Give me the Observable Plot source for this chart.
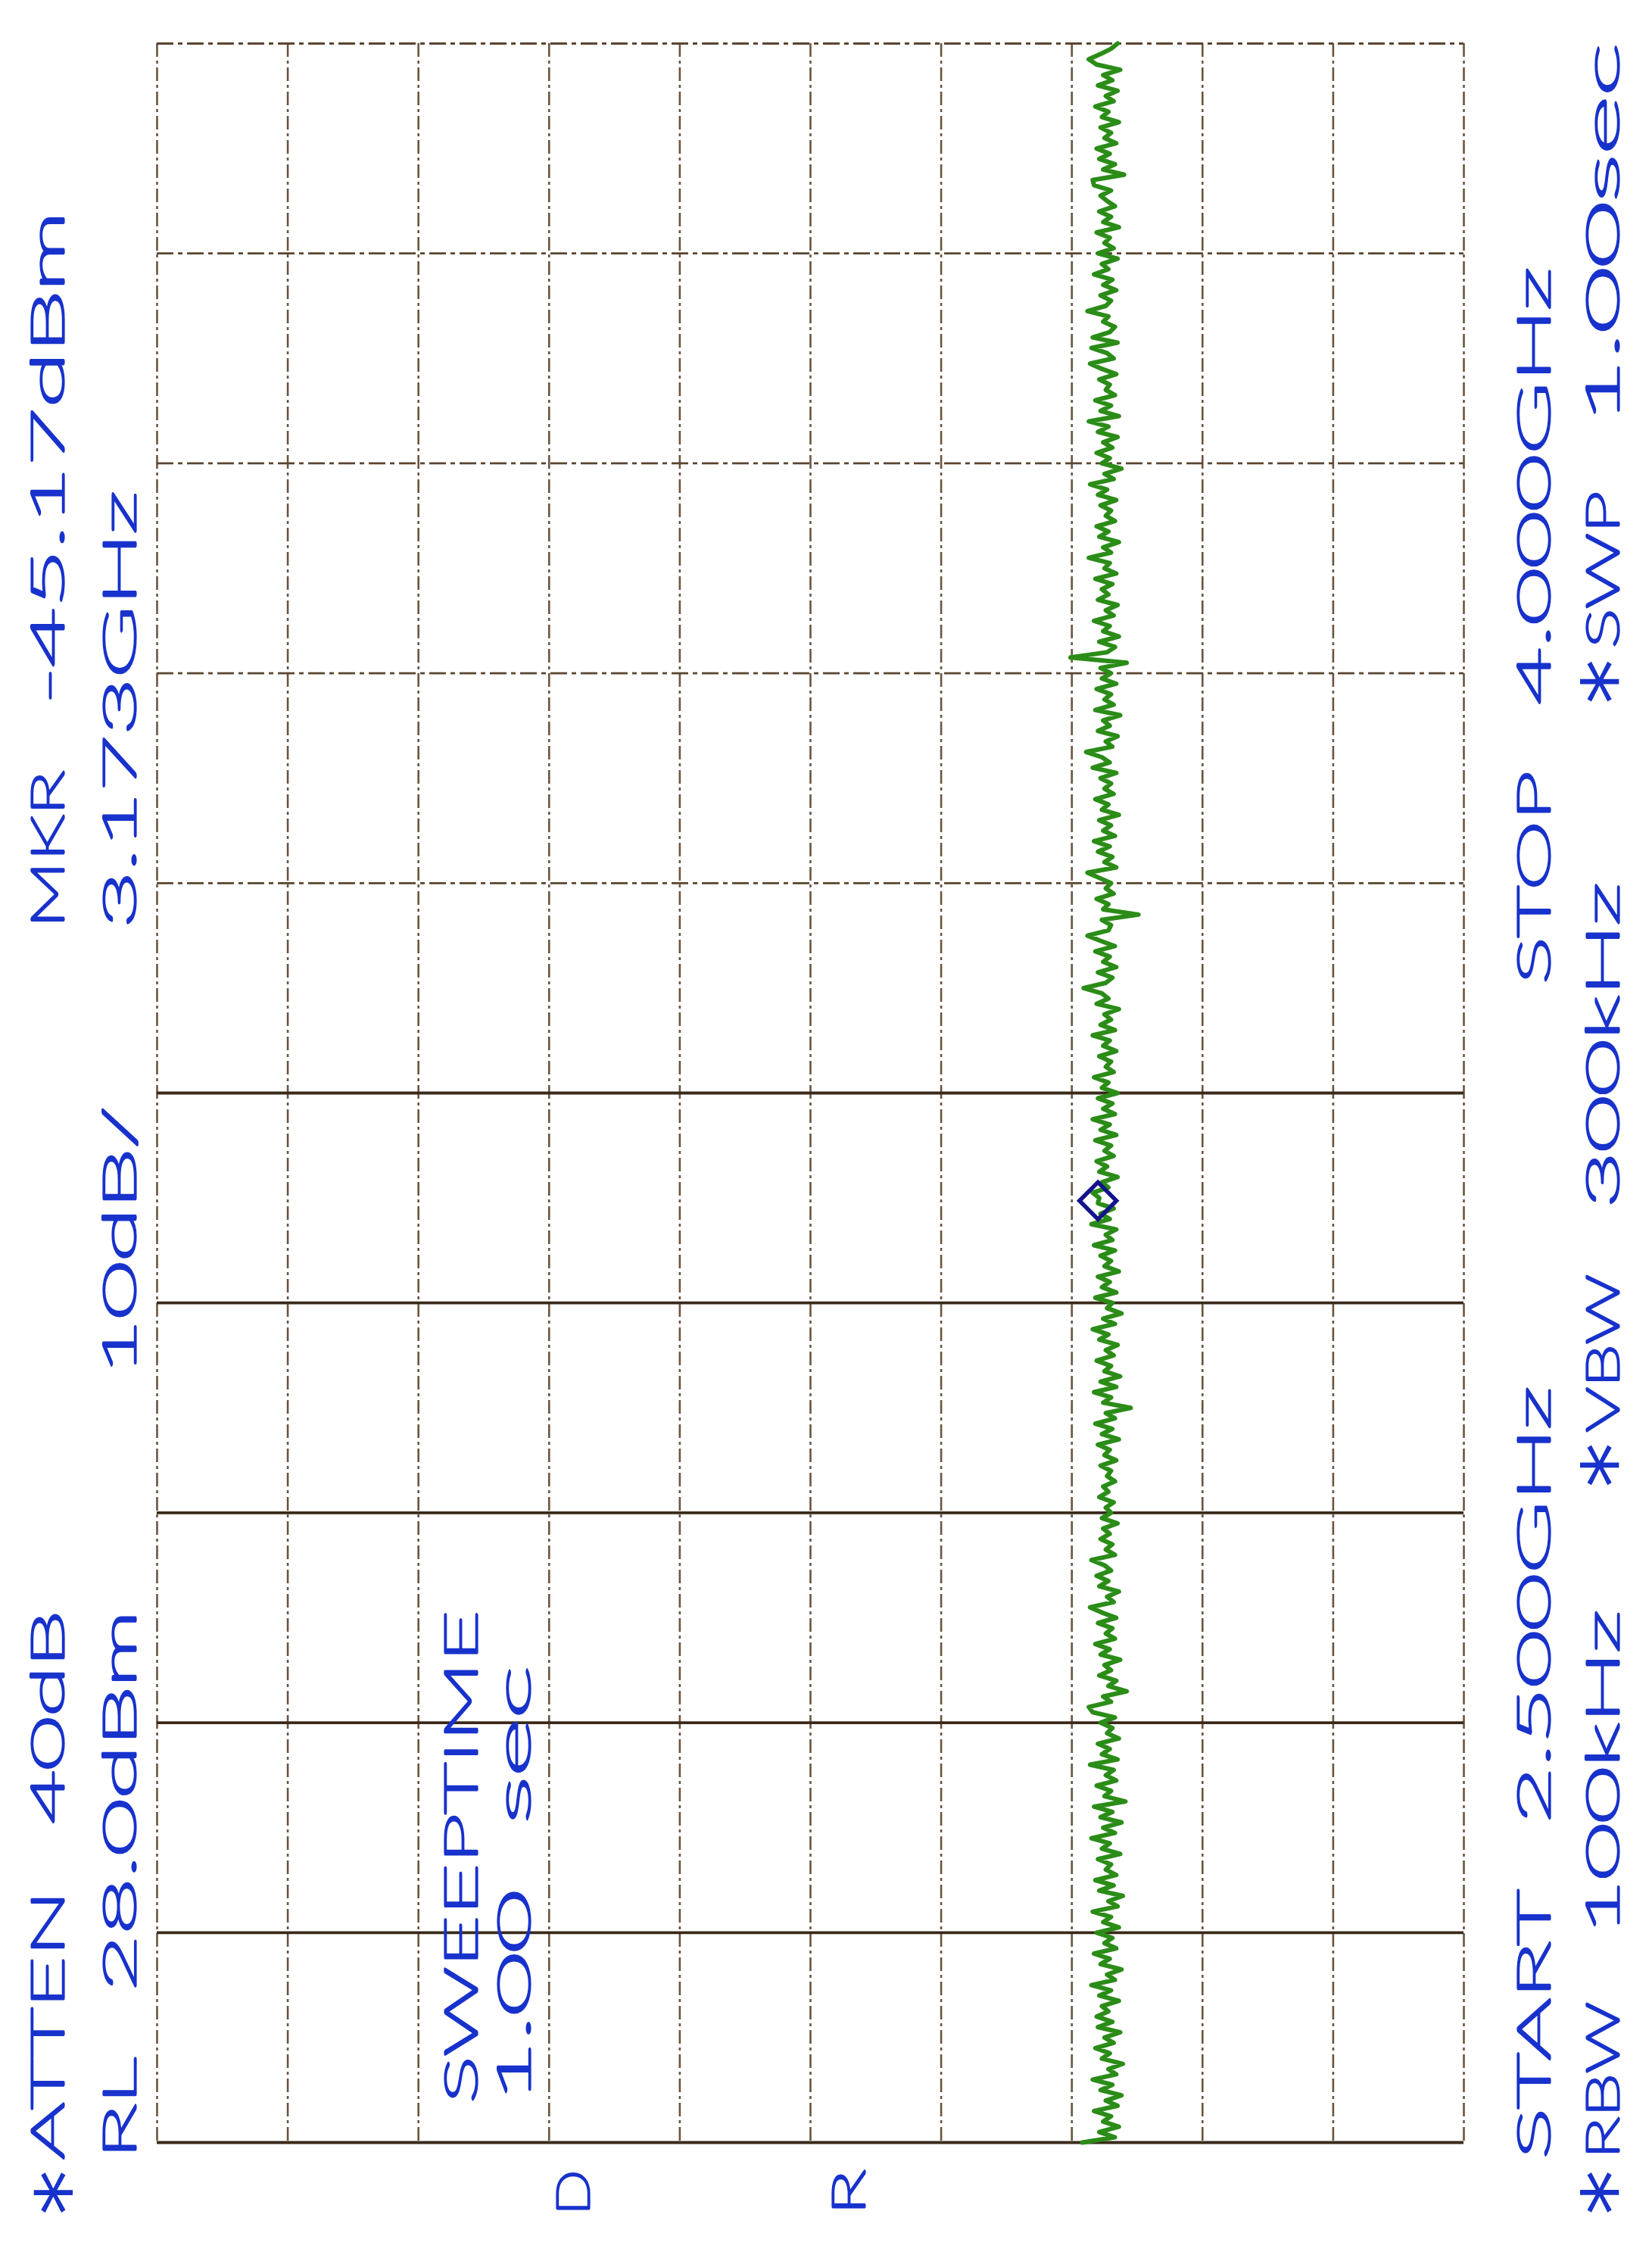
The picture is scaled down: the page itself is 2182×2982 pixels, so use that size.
<!DOCTYPE html>
<html>
<head>
<meta charset="utf-8">
<script src="https://cdn.jsdelivr.net/npm/d3@7"></script>
<script src="https://cdn.jsdelivr.net/npm/@observablehq/plot@0.6"></script>
<style>
html, body { margin: 0; padding: 0; background: #ffffff; }
#chart svg { display: block; }
</style>
</head>
<body>
<div id="chart"></div>
<script>
// ---- data ----
const startGhz = 2.5;
const stopGhz = 4.0;
const refLevelDbm = 28;
const dbPerDiv = 10;

// amplitude grid (dBm) and frequency grid (GHz)
const ampGrid = [28, 18, 8, -2, -12, -22, -32, -42, -52, -62, -72];
const freqGridSolid = [2.5, 2.65, 2.8, 2.95, 3.1, 3.25];
const freqGridDashed = [3.4, 3.55, 3.7, 3.85, 4.0];

// trace, 401 sweep points from START (index 0) to STOP (index 400), dBm
const traceDbm = [
  -42.8, -45.3, -44.1, -45.6, -44.4, -45.0, -43.7, -45.5, -44.6, -45.8,
  -44.2, -45.1, -43.6, -45.4, -44.8, -45.9, -44.3, -44.9, -43.8, -45.2,
  -44.5, -45.7, -44.0, -45.1, -43.9, -44.8, -44.3, -45.6, -44.1, -45.0,
  -43.5, -45.3, -44.7, -45.8, -44.2, -44.9, -43.7, -45.4, -44.5, -45.1,
  -43.9, -45.6, -44.4, -45.0, -43.6, -45.5, -44.8, -45.9, -44.1, -45.2,
  -43.8, -45.4, -44.6, -45.0, -44.0, -45.7, -44.3, -44.9, -43.5, -45.3,
  -44.4, -45.8, -44.2, -45.1, -43.7, -46.1, -44.5, -45.0, -43.9, -45.4,
  -44.6, -45.2, -43.4, -45.5, -44.3, -44.9, -44.0, -45.6, -44.7, -45.1,
  -44.2, -45.3, -43.6, -43.3, -45.0, -44.4, -46.2, -44.8, -45.4, -44.1,
  -45.0, -44.5, -45.7, -44.2, -44.9, -43.8, -45.3, -44.6, -45.1, -44.0,
  -45.4, -44.3, -43.4, -45.2, -44.7, -45.6, -44.1, -44.8, -43.9, -45.0,
  -44.5, -43.5, -45.3, -44.6, -45.1, -44.2, -44.9, -44.4, -45.5, -44.3,
  -45.0, -44.6, -45.2, -44.1, -44.8, -44.4, -45.3, -44.7, -45.0, -44.2,
  -45.4, -44.5, -44.9, -44.0, -45.6, -44.3, -45.1, -43.8, -45.3, -44.6,
  -46.5, -44.4, -45.0, -43.7, -45.4, -44.2, -45.7, -44.5, -45.0, -43.9,
  -45.2, -44.6, -45.5, -44.1, -44.8, -43.6, -45.3, -44.4, -45.8, -44.7,
  -45.1, -43.8, -45.4, -44.3, -44.9, -44.0, -45.6, -44.5, -45.0, -44.2,
  -45.3, -43.7, -45.1, -44.6, -45.4, -43.5, -44.9, -44.2, -45.2, -44.0,
  -44.1, -43.6, -44.8, -44.3, -45.5, -44.1, -44.7, -43.9, -45.2, -44.5,
  -45.0, -43.8, -45.4, -44.2, -44.9, -43.6, -45.3, -44.4, -45.1, -44.0,
  -45.5, -44.3, -44.8, -43.7, -45.2, -44.6, -45.0, -44.1, -45.4, -44.4,
  -44.9, -43.6, -45.3, -44.2, -45.0, -44.5, -45.6, -43.9, -44.8, -44.3,
  -42.9, -44.6, -45.1, -44.0, -45.4, -44.4, -44.9, -43.8, -45.3, -44.2,
  -43.2, -44.8, -45.0, -44.3, -47.1, -44.4, -44.8, -43.9, -45.2, -44.6,
  -45.0, -44.1, -43.2, -45.4, -44.5, -45.1, -44.0, -44.9, -43.7, -45.3,
  -44.4, -45.0, -44.1, -45.6, -44.3, -44.8, -43.8, -45.2, -44.5, -45.0,
  -44.2, -45.4, -43.6, -44.9, -44.3, -43.1, -45.1, -44.6, -45.5, -44.0,
  -44.9, -44.4, -45.7, -43.8, -45.2, -44.5, -45.0, -43.9, -45.4, -44.3,
  -45.0, -44.2, -46.2, -41.9, -44.7, -45.3, -44.1, -45.6, -44.4, -44.9,
  -43.7, -45.2, -44.6, -45.5, -44.0, -44.8, -44.3, -45.1, -43.8, -45.4,
  -44.5, -44.9, -43.3, -45.0, -44.4, -45.6, -44.1, -44.8, -43.9, -45.3,
  -44.6, -45.0, -44.2, -45.4, -44.0, -44.7, -43.4, -45.2, -44.5, -45.8,
  -44.3, -44.9, -43.9, -45.1, -44.4, -45.5, -44.0, -44.8, -43.3, -45.6,
  -44.2, -45.0, -43.8, -45.3, -44.6, -44.9, -44.1, -45.4, -44.3, -43.4,
  -45.2, -44.7, -43.5, -45.5, -43.6, -44.9, -45.3, -44.4, -44.8, -43.2,
  -44.6, -45.0, -44.2, -45.4, -44.4, -45.1, -43.7, -44.8, -44.3, -45.5,
  -44.0, -45.2, -44.5, -44.9, -43.9, -45.6, -44.4, -45.0, -44.1, -45.3,
  -44.7, -44.2, -45.0, -43.7, -43.6, -46.0, -44.4, -45.3, -44.1, -44.9,
  -43.9, -45.4, -44.5, -45.0, -44.2, -45.6, -44.3, -44.8, -43.8, -45.2,
  -44.6, -45.5, -44.0, -45.1, -44.4, -45.7, -43.9, -43.3, -44.2, -45.0,
  -45.5
];

// marker
const markerGhz = [3.173];
const markerDbm = [-44.0];

// annotation texts (plotter printout)
const labels = [
  "*ATTEN 40dB", "MKR -45.17dBm",
  "RL 28.0dBm", "10dB/", "3.173GHz",
  "SWEEPTIME", "1.00 sec",
  "START 2.500GHz", "STOP 4.000GHz",
  "*RBW 100kHz", "*VBW 300kHz", "*SWP 1.00sec",
  "D", "R"
];

// ---- layout (screen placement of each label: text-line x, character column) ----
const W = 2182, H = 2982;
const M = {left: 207, right: 249, top: 57, bottom: 153};
const pitch = 73.9;          // plotter character pitch
const col0 = 2925;           // screen y of character column 0
const labelLayout = [
  {x: 64, col: 0}, {x: 64, col: 23},
  {x: 159, col: 1}, {x: 159, col: 15}, {x: 159, col: 23},
  {x: 610, col: 2}, {x: 680, col: 2},
  {x: 2027, col: 1}, {x: 2027, col: 22},
  {x: 2118, col: 0}, {x: 2118, col: 13}, {x: 2118, col: 27},
  {x: 758, col: 0}, {x: 1122, col: 0}
];

const trace = traceDbm.map((v, i) => ({
  ghz: startGhz + i * (stopGhz - startGhz) / (traceDbm.length - 1),
  dbm: v
}));
const marker = markerGhz.map((g, i) => ({ghz: g, dbm: markerDbm[i]}));

const textColor = "#1832cc";
const textStyle = {
  frameAnchor: "bottom-left",
  fill: textColor,
  stroke: textColor,
  strokeWidth: 3.2,
  strokeLinejoin: "round",
  fontFamily: "Lato, 'DejaVu Sans', sans-serif",
  fontWeight: 100
};
const textMarks = [];
function placeWord(word, x, c) {
  textMarks.push(Plot.text([word], {
    ...textStyle,
    text: d => d,
    rotate: -90,
    textAnchor: "start",
    lineAnchor: "middle",
    dx: x - M.left,
    dy: (col0 - c * pitch) - (H - M.bottom),
    fontSize: 60
  }));
}
function placeStar(x, c) {
  // plotter asterisk: full cap size, centred on the text line
  const fs = 112, off = 0.57 * fs, right = x > W / 2;
  textMarks.push(Plot.text(["*"], {
    ...textStyle,
    text: d => d,
    rotate: right ? 90 : -90,
    textAnchor: "middle",
    lineAnchor: "bottom",
    dx: (right ? x - off : x + off) - M.left,
    dy: (col0 - c * pitch - (pitch - 14) / 2) - (H - M.bottom),
    fontFamily: "'DejaVu Sans', sans-serif",
    fontWeight: 400,
    fontSize: fs,
    strokeWidth: 0
  }));
}
labels.forEach((lab, k) => {
  const lay = labelLayout[k];
  // each word at its own character column (fixed plotter pitch)
  let idx = 0;
  lab.split(" ").forEach(word => {
    let c = lay.col + idx;
    idx += word.length + 1;
    if (!word) return;
    if (word[0] === "*") {
      placeStar(lay.x, c);
      word = word.slice(1);
      c += 1;
    }
    if (word) placeWord(word, lay.x, c);
  });
});

const chart = Plot.plot({
  width: W,
  height: H,
  marginLeft: M.left,
  marginRight: M.right,
  marginTop: M.top,
  marginBottom: M.bottom,
  x: {domain: [refLevelDbm, refLevelDbm - 10 * dbPerDiv], axis: null},
  y: {domain: [startGhz, stopGhz], axis: null},
  style: {background: "#ffffff", overflow: "visible"},
  marks: [
    Plot.ruleX(ampGrid, {stroke: "#6b5540", strokeWidth: 2.6, strokeDasharray: "18 5 4 5"}),
    Plot.ruleY(freqGridDashed, {stroke: "#5a4530", strokeWidth: 2.8, strokeDasharray: "22 6 6 6"}),
    Plot.ruleY(freqGridSolid, {stroke: "#3a2a1a", strokeWidth: 3.8}),
    Plot.line(trace, {x: "dbm", y: "ghz", stroke: "#2b8c18", strokeWidth: 6, strokeLinejoin: "round"}),
    Plot.dot(marker, {x: "dbm", y: "ghz", symbol: "diamond2", r: 22, stroke: "#14148a", strokeWidth: 5.5, fill: "none"}),
    ...textMarks
  ]
});

document.getElementById("chart").appendChild(chart);

// stretch each plotter word to its fixed-pitch width
d3.select(chart).selectAll("g[aria-label='text'] text").each(function () {
  const t = this.textContent;
  this.setAttribute("textLength", (t.length * pitch - 14).toFixed(1));
  this.setAttribute("lengthAdjust", "spacingAndGlyphs");
});
</script>
</body>
</html>
